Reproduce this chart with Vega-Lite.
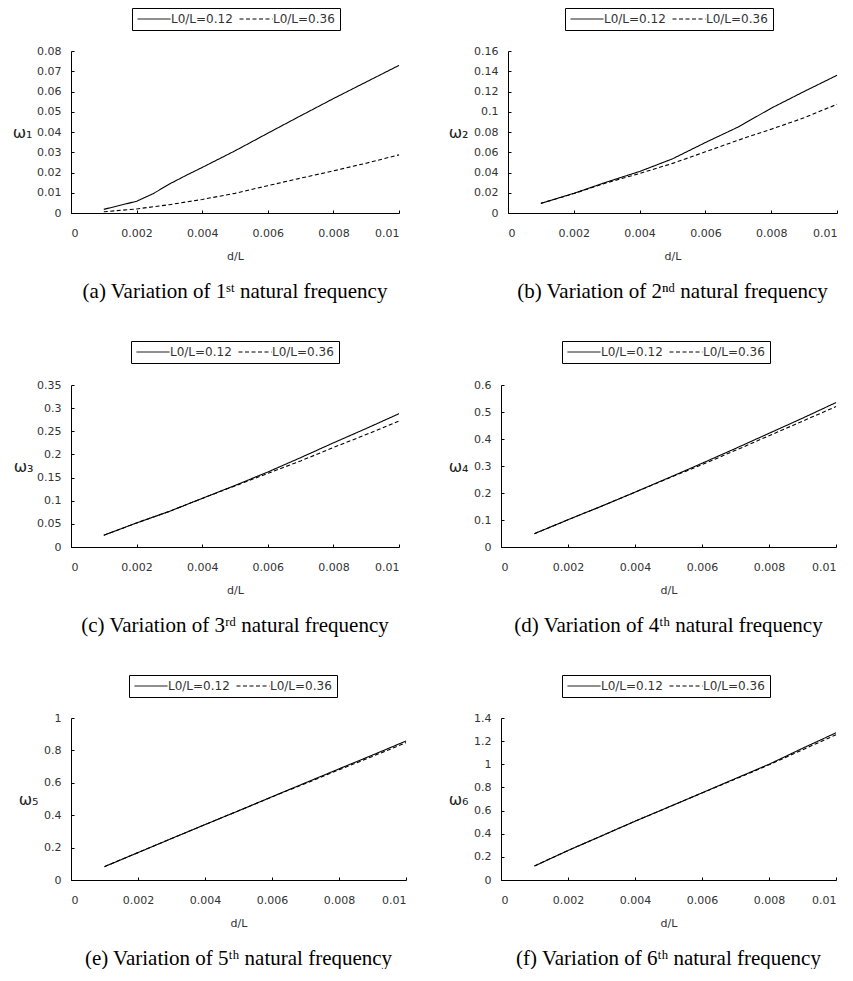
{
  "$schema": "https://vega.github.io/schema/vega-lite/v6.json",
  "padding": {"left": 12, "top": 7, "right": 0, "bottom": 0},
  "background": "white",
  "datasets": {
    "a": [
      {"d": 0.001, "w": 0.0018, "series": "L0/L=0.12"}, {"d": 0.002, "w": 0.0058, "series": "L0/L=0.12"}, {"d": 0.0025, "w": 0.0095, "series": "L0/L=0.12"}, {"d": 0.003, "w": 0.0143, "series": "L0/L=0.12"}, {"d": 0.0035, "w": 0.0185, "series": "L0/L=0.12"}, {"d": 0.004, "w": 0.0225, "series": "L0/L=0.12"}, {"d": 0.005, "w": 0.0307, "series": "L0/L=0.12"}, {"d": 0.006, "w": 0.0394, "series": "L0/L=0.12"}, {"d": 0.007, "w": 0.048, "series": "L0/L=0.12"}, {"d": 0.008, "w": 0.0565, "series": "L0/L=0.12"}, {"d": 0.009, "w": 0.0647, "series": "L0/L=0.12"}, {"d": 0.01, "w": 0.0729, "series": "L0/L=0.12"},
      {"d": 0.001, "w": 0.0006, "series": "L0/L=0.36"}, {"d": 0.002, "w": 0.002, "series": "L0/L=0.36"}, {"d": 0.003, "w": 0.0041, "series": "L0/L=0.36"}, {"d": 0.004, "w": 0.0067, "series": "L0/L=0.36"}, {"d": 0.005, "w": 0.0097, "series": "L0/L=0.36"}, {"d": 0.006, "w": 0.0135, "series": "L0/L=0.36"}, {"d": 0.007, "w": 0.0172, "series": "L0/L=0.36"}, {"d": 0.008, "w": 0.0208, "series": "L0/L=0.36"}, {"d": 0.009, "w": 0.0246, "series": "L0/L=0.36"}, {"d": 0.01, "w": 0.0287, "series": "L0/L=0.36"}
    ],
    "b": [
      {"d": 0.001, "w": 0.0095, "series": "L0/L=0.12"}, {"d": 0.002, "w": 0.0194, "series": "L0/L=0.12"}, {"d": 0.003, "w": 0.0306, "series": "L0/L=0.12"}, {"d": 0.004, "w": 0.041, "series": "L0/L=0.12"}, {"d": 0.005, "w": 0.0535, "series": "L0/L=0.12"}, {"d": 0.006, "w": 0.0696, "series": "L0/L=0.12"}, {"d": 0.007, "w": 0.085, "series": "L0/L=0.12"}, {"d": 0.008, "w": 0.1035, "series": "L0/L=0.12"}, {"d": 0.009, "w": 0.12, "series": "L0/L=0.12"}, {"d": 0.01, "w": 0.136, "series": "L0/L=0.12"},
      {"d": 0.001, "w": 0.0095, "series": "L0/L=0.36"}, {"d": 0.002, "w": 0.0192, "series": "L0/L=0.36"}, {"d": 0.003, "w": 0.0298, "series": "L0/L=0.36"}, {"d": 0.004, "w": 0.039, "series": "L0/L=0.36"}, {"d": 0.005, "w": 0.049, "series": "L0/L=0.36"}, {"d": 0.006, "w": 0.0604, "series": "L0/L=0.36"}, {"d": 0.007, "w": 0.072, "series": "L0/L=0.36"}, {"d": 0.008, "w": 0.0828, "series": "L0/L=0.36"}, {"d": 0.009, "w": 0.094, "series": "L0/L=0.36"}, {"d": 0.01, "w": 0.1074, "series": "L0/L=0.36"}
    ],
    "c": [
      {"d": 0.001, "w": 0.0254, "series": "L0/L=0.12"}, {"d": 0.002, "w": 0.052, "series": "L0/L=0.12"}, {"d": 0.003, "w": 0.077, "series": "L0/L=0.12"}, {"d": 0.004, "w": 0.105, "series": "L0/L=0.12"}, {"d": 0.005, "w": 0.133, "series": "L0/L=0.12"}, {"d": 0.006, "w": 0.162, "series": "L0/L=0.12"}, {"d": 0.007, "w": 0.193, "series": "L0/L=0.12"}, {"d": 0.008, "w": 0.225, "series": "L0/L=0.12"}, {"d": 0.009, "w": 0.256, "series": "L0/L=0.12"}, {"d": 0.01, "w": 0.288, "series": "L0/L=0.12"},
      {"d": 0.001, "w": 0.0254, "series": "L0/L=0.36"}, {"d": 0.002, "w": 0.052, "series": "L0/L=0.36"}, {"d": 0.003, "w": 0.077, "series": "L0/L=0.36"}, {"d": 0.004, "w": 0.105, "series": "L0/L=0.36"}, {"d": 0.005, "w": 0.132, "series": "L0/L=0.36"}, {"d": 0.006, "w": 0.159, "series": "L0/L=0.36"}, {"d": 0.007, "w": 0.186, "series": "L0/L=0.36"}, {"d": 0.008, "w": 0.215, "series": "L0/L=0.36"}, {"d": 0.009, "w": 0.243, "series": "L0/L=0.36"}, {"d": 0.01, "w": 0.272, "series": "L0/L=0.36"}
    ],
    "d": [
      {"d": 0.001, "w": 0.0495, "series": "L0/L=0.12"}, {"d": 0.002, "w": 0.101, "series": "L0/L=0.12"}, {"d": 0.003, "w": 0.151, "series": "L0/L=0.12"}, {"d": 0.004, "w": 0.203, "series": "L0/L=0.12"}, {"d": 0.005, "w": 0.256, "series": "L0/L=0.12"}, {"d": 0.006, "w": 0.31, "series": "L0/L=0.12"}, {"d": 0.007, "w": 0.365, "series": "L0/L=0.12"}, {"d": 0.008, "w": 0.421, "series": "L0/L=0.12"}, {"d": 0.009, "w": 0.477, "series": "L0/L=0.12"}, {"d": 0.01, "w": 0.535, "series": "L0/L=0.12"},
      {"d": 0.001, "w": 0.0495, "series": "L0/L=0.36"}, {"d": 0.002, "w": 0.101, "series": "L0/L=0.36"}, {"d": 0.003, "w": 0.151, "series": "L0/L=0.36"}, {"d": 0.004, "w": 0.203, "series": "L0/L=0.36"}, {"d": 0.005, "w": 0.255, "series": "L0/L=0.36"}, {"d": 0.006, "w": 0.305, "series": "L0/L=0.36"}, {"d": 0.007, "w": 0.358, "series": "L0/L=0.36"}, {"d": 0.008, "w": 0.412, "series": "L0/L=0.36"}, {"d": 0.009, "w": 0.466, "series": "L0/L=0.36"}, {"d": 0.01, "w": 0.52, "series": "L0/L=0.36"}
    ],
    "e": [
      {"d": 0.001, "w": 0.0825, "series": "L0/L=0.12"}, {"d": 0.002, "w": 0.169, "series": "L0/L=0.12"}, {"d": 0.003, "w": 0.256, "series": "L0/L=0.12"}, {"d": 0.004, "w": 0.342, "series": "L0/L=0.12"}, {"d": 0.005, "w": 0.427, "series": "L0/L=0.12"}, {"d": 0.006, "w": 0.514, "series": "L0/L=0.12"}, {"d": 0.007, "w": 0.6, "series": "L0/L=0.12"}, {"d": 0.008, "w": 0.686, "series": "L0/L=0.12"}, {"d": 0.009, "w": 0.771, "series": "L0/L=0.12"}, {"d": 0.01, "w": 0.858, "series": "L0/L=0.12"},
      {"d": 0.001, "w": 0.0825, "series": "L0/L=0.36"}, {"d": 0.002, "w": 0.169, "series": "L0/L=0.36"}, {"d": 0.003, "w": 0.256, "series": "L0/L=0.36"}, {"d": 0.004, "w": 0.342, "series": "L0/L=0.36"}, {"d": 0.005, "w": 0.427, "series": "L0/L=0.36"}, {"d": 0.006, "w": 0.513, "series": "L0/L=0.36"}, {"d": 0.007, "w": 0.596, "series": "L0/L=0.36"}, {"d": 0.008, "w": 0.68, "series": "L0/L=0.36"}, {"d": 0.009, "w": 0.763, "series": "L0/L=0.36"}, {"d": 0.01, "w": 0.848, "series": "L0/L=0.36"}
    ],
    "f": [
      {"d": 0.001, "w": 0.121, "series": "L0/L=0.12"}, {"d": 0.002, "w": 0.255, "series": "L0/L=0.12"}, {"d": 0.003, "w": 0.381, "series": "L0/L=0.12"}, {"d": 0.004, "w": 0.508, "series": "L0/L=0.12"}, {"d": 0.005, "w": 0.63, "series": "L0/L=0.12"}, {"d": 0.006, "w": 0.753, "series": "L0/L=0.12"}, {"d": 0.007, "w": 0.877, "series": "L0/L=0.12"}, {"d": 0.008, "w": 1.0, "series": "L0/L=0.12"}, {"d": 0.009, "w": 1.138, "series": "L0/L=0.12"}, {"d": 0.01, "w": 1.272, "series": "L0/L=0.12"},
      {"d": 0.001, "w": 0.121, "series": "L0/L=0.36"}, {"d": 0.002, "w": 0.255, "series": "L0/L=0.36"}, {"d": 0.003, "w": 0.381, "series": "L0/L=0.36"}, {"d": 0.004, "w": 0.508, "series": "L0/L=0.36"}, {"d": 0.005, "w": 0.63, "series": "L0/L=0.36"}, {"d": 0.006, "w": 0.751, "series": "L0/L=0.36"}, {"d": 0.007, "w": 0.873, "series": "L0/L=0.36"}, {"d": 0.008, "w": 0.995, "series": "L0/L=0.36"}, {"d": 0.009, "w": 1.125, "series": "L0/L=0.36"}, {"d": 0.01, "w": 1.255, "series": "L0/L=0.36"}
    ]
  },
  "columns": 2,
  "align": "none",
  "spacing": {"row": 38, "column": 39},
  "resolve": {"scale": {"strokeDash": "independent", "x": "independent", "y": "independent"}, "legend": {"strokeDash": "independent"}},
  "concat": [
    {
      "width": 328, "height": 162,
      "data": {"name": "a"},
      "title": {"text": "(a) Variation of 1ˢᵗ natural frequency"},
      "mark": {"type": "line", "color": "black", "strokeWidth": 1.1},
      "encoding": {
        "x": {"field": "d", "type": "quantitative", "scale": {"domain": [0, 0.01], "nice": false}, "axis": {"title": "d/L", "values": [0, 0.002, 0.004, 0.006, 0.008, 0.01], "format": "~g"}},
        "y": {"field": "w", "type": "quantitative", "scale": {"domain": [0, 0.08], "nice": false}, "axis": {"title": "ω₁", "titleX": -39, "values": [0, 0.01, 0.02, 0.03, 0.04, 0.05, 0.06, 0.07, 0.08], "format": "~g"}},
        "strokeDash": {"field": "series", "type": "nominal", "scale": {"domain": ["L0/L=0.12", "L0/L=0.36"], "range": [[1, 0], [4, 2.5]]}, "legend": {"legendX": 61, "legendY": -43}}
      }
    },
    {
      "width": 329, "height": 162,
      "data": {"name": "b"},
      "title": {"text": "(b) Variation of 2ⁿᵈ natural frequency"},
      "mark": {"type": "line", "color": "black", "strokeWidth": 1.1},
      "encoding": {
        "x": {"field": "d", "type": "quantitative", "scale": {"domain": [0, 0.01], "nice": false}, "axis": {"title": "d/L", "values": [0, 0.002, 0.004, 0.006, 0.008, 0.01], "format": "~g"}},
        "y": {"field": "w", "type": "quantitative", "scale": {"domain": [0, 0.16], "nice": false}, "axis": {"title": "ω₂", "titleX": -40, "values": [0, 0.02, 0.04, 0.06, 0.08, 0.1, 0.12, 0.14, 0.16], "format": "~g"}},
        "strokeDash": {"field": "series", "type": "nominal", "scale": {"domain": ["L0/L=0.12", "L0/L=0.36"], "range": [[1, 0], [4, 2.5]]}, "legend": {"legendX": 57, "legendY": -43}}
      }
    },
    {
      "width": 328, "height": 162,
      "data": {"name": "c"},
      "title": {"text": "(c) Variation of 3ʳᵈ natural frequency"},
      "mark": {"type": "line", "color": "black", "strokeWidth": 1.1},
      "encoding": {
        "x": {"field": "d", "type": "quantitative", "scale": {"domain": [0, 0.01], "nice": false}, "axis": {"title": "d/L", "values": [0, 0.002, 0.004, 0.006, 0.008, 0.01], "format": "~g"}},
        "y": {"field": "w", "type": "quantitative", "scale": {"domain": [0, 0.35], "nice": false}, "axis": {"title": "ω₃", "titleX": -38, "values": [0, 0.05, 0.1, 0.15, 0.2, 0.25, 0.3, 0.35], "format": "~g"}},
        "strokeDash": {"field": "series", "type": "nominal", "scale": {"domain": ["L0/L=0.12", "L0/L=0.36"], "range": [[1, 0], [4, 2.5]]}, "legend": {"legendX": 60, "legendY": -44}}
      }
    },
    {
      "width": 335, "height": 162,
      "data": {"name": "d"},
      "title": {"text": "(d) Variation of 4ᵗʰ natural frequency"},
      "mark": {"type": "line", "color": "black", "strokeWidth": 1.1},
      "encoding": {
        "x": {"field": "d", "type": "quantitative", "scale": {"domain": [0, 0.01], "nice": false}, "axis": {"title": "d/L", "values": [0, 0.002, 0.004, 0.006, 0.008, 0.01], "format": "~g"}},
        "y": {"field": "w", "type": "quantitative", "scale": {"domain": [0, 0.6], "nice": false}, "axis": {"title": "ω₄", "titleX": -33, "values": [0, 0.1, 0.2, 0.3, 0.4, 0.5, 0.6], "format": "~g"}},
        "strokeDash": {"field": "series", "type": "nominal", "scale": {"domain": ["L0/L=0.12", "L0/L=0.36"], "range": [[1, 0], [4, 2.5]]}, "legend": {"legendX": 61, "legendY": -44}}
      }
    },
    {
      "width": 335, "height": 162,
      "data": {"name": "e"},
      "title": {"text": "(e) Variation of 5ᵗʰ natural frequency"},
      "mark": {"type": "line", "color": "black", "strokeWidth": 1.1},
      "encoding": {
        "x": {"field": "d", "type": "quantitative", "scale": {"domain": [0, 0.01], "nice": false}, "axis": {"title": "d/L", "values": [0, 0.002, 0.004, 0.006, 0.008, 0.01], "format": "~g"}},
        "y": {"field": "w", "type": "quantitative", "scale": {"domain": [0, 1], "nice": false}, "axis": {"title": "ω₅", "titleX": -33, "values": [0, 0.2, 0.4, 0.6, 0.8, 1], "format": "~g"}},
        "strokeDash": {"field": "series", "type": "nominal", "scale": {"domain": ["L0/L=0.12", "L0/L=0.36"], "range": [[1, 0], [4, 2.5]]}, "legend": {"legendX": 58, "legendY": -43}}
      }
    },
    {
      "width": 335, "height": 162,
      "data": {"name": "f"},
      "title": {"text": "(f) Variation of 6ᵗʰ natural frequency"},
      "mark": {"type": "line", "color": "black", "strokeWidth": 1.1},
      "encoding": {
        "x": {"field": "d", "type": "quantitative", "scale": {"domain": [0, 0.01], "nice": false}, "axis": {"title": "d/L", "values": [0, 0.002, 0.004, 0.006, 0.008, 0.01], "format": "~g"}},
        "y": {"field": "w", "type": "quantitative", "scale": {"domain": [0, 1.4], "nice": false}, "axis": {"title": "ω₆", "titleX": -33, "values": [0, 0.2, 0.4, 0.6, 0.8, 1, 1.2, 1.4], "format": "~g"}},
        "strokeDash": {"field": "series", "type": "nominal", "scale": {"domain": ["L0/L=0.12", "L0/L=0.36"], "range": [[1, 0], [4, 2.5]]}, "legend": {"legendX": 61, "legendY": -43}}
      }
    }
  ],
  "config": {
    "view": {"stroke": null},
    "axis": {"grid": false, "domainColor": "black", "domainWidth": 1, "tickColor": "black", "tickWidth": 1, "tickSize": -3, "labelFont": "DejaVu Sans", "labelFontSize": 11, "labelColor": "#333333", "titleFont": "DejaVu Sans", "titleFontSize": 11, "titleColor": "#333333", "titleFontWeight": "normal"},
    "axisX": {"labelPadding": 17, "titlePadding": 12},
    "axisY": {"labelPadding": 13, "titleAngle": 0, "titleAlign": "right", "titleBaseline": "middle", "titleFontSize": 16, "titleColor": "#222222", "titleY": 81},
    "legend": {"orient": "none", "direction": "horizontal", "title": null, "symbolType": "M-3,0H3", "symbolSize": 121, "symbolOffset": 11, "symbolStrokeColor": "black", "symbolStrokeWidth": 1, "strokeColor": "black", "padding": 5, "labelFont": "DejaVu Sans", "labelFontSize": 12, "labelColor": "#333333", "labelOffset": 11, "columnPadding": 4},
    "title": {"orient": "bottom", "font": "Liberation Serif", "fontSize": 21, "fontWeight": "normal", "color": "black", "frame": "group", "anchor": "middle", "offset": 20}
  }
}
